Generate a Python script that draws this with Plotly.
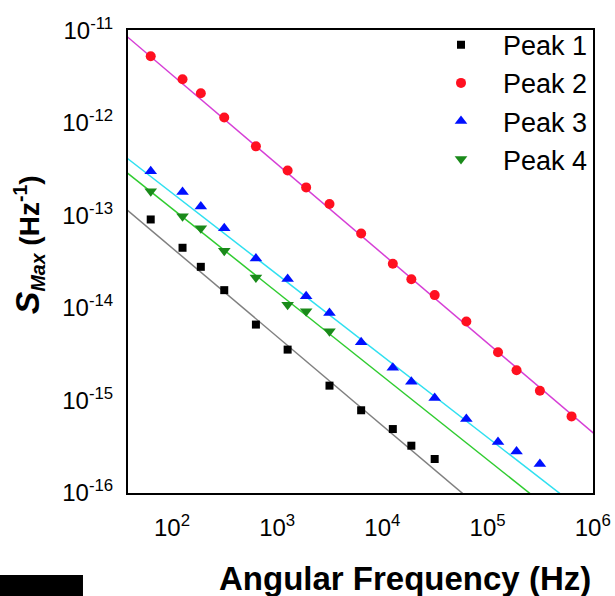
import numpy as np
import plotly.graph_objects as go

# ---- data ----
omega = [62.8, 126, 188, 314, 628, 1257, 1885, 3142, 6283, 12566, 18850,
         31416, 62832, 125664, 188496, 314159, 628318]

peak1_x = [62.8, 126, 188, 314, 628, 1257, 3142, 6283, 12566, 18850, 31416]
peak1_y = [9.0e-14, 4.45e-14, 2.77e-14, 1.55e-14, 6.58e-15, 3.53e-15,
           1.44e-15, 7.8e-16, 4.89e-16, 3.23e-16, 2.32e-16]

peak2_x = omega
peak2_y = [5.23e-12, 2.95e-12, 2.08e-12, 1.14e-12, 5.55e-13, 3.05e-13,
           2.0e-13, 1.32e-13, 6.35e-14, 2.99e-14, 2.03e-14, 1.37e-14,
           7.1e-15, 3.30e-15, 2.11e-15, 1.27e-15, 6.7e-16]

peak3_x = [62.8, 126, 188, 314, 628, 1257, 1885, 3142, 6283, 12566, 18850,
           31416, 62832, 125664, 188496, 314159]
peak3_y = [2.98e-13, 1.78e-13, 1.24e-13, 7.24e-14, 3.40e-14, 2.05e-14,
           1.33e-14, 8.8e-15, 4.23e-15, 2.25e-15, 1.59e-15, 1.06e-15,
           6.28e-16, 3.54e-16, 2.80e-16, 2.05e-16]

peak4_x = [62.8, 126, 188, 314, 628, 1257, 1885, 3142]
peak4_y = [1.82e-13, 9.78e-14, 7.24e-14, 4.13e-14, 2.12e-14, 1.08e-14,
           9.17e-15, 5.57e-15]

# power-law fits: log10(S) = intercept + slope*log10(omega)
fit_slope = [-0.961, -0.967, -0.881, -0.905]
fit_intercept = [-11.43, -9.548, -10.997, -11.118]

names = ["Peak 1", "Peak 2", "Peak 3", "Peak 4"]
marker_colors = ["#000000", "#ff1020", "#0010ff", "#1a8a1a"]
line_colors = ["#808080", "#d63fd6", "#30e0f0", "#30cc30"]
symbols = ["square", "circle", "triangle-up", "triangle-down"]
sizes = [8, 10, 11, 11]

# axis decades and their labels
x_exponents = [2, 3, 4, 5, 6]
y_exponents = [-16, -15, -14, -13, -12, -11]

xs = [peak1_x, peak2_x, peak3_x, peak4_x]
ys = [peak1_y, peak2_y, peak3_y, peak4_y]

x_range_log = [1.582, 6.002]
y_range_log = [-16.002, -10.998]

W, H = 615, 596
M = dict(l=128, r=22, t=30, b=103)
PLOT_W = W - M["l"] - M["r"]
PLOT_H = H - M["t"] - M["b"]
MAJOR_LEN, MINOR_LEN = 14, 7

FONT = "Arial, Liberation Sans, sans-serif"


def minor_exps(lo, hi):
    out = []
    for e in range(int(np.floor(lo)), int(np.ceil(hi)) + 1):
        for m in range(2, 10):
            v = np.log10(m) + e
            if lo < v < hi:
                out.append(v)
    return out


def decade_labels(exps):
    return [f"10<sup>{e}</sup>" for e in exps]


fig = go.Figure()
xfit = np.logspace(1.4, 6.2, 50)
for i in range(4):
    yfit = 10 ** (fit_intercept[i] + fit_slope[i] * np.log10(xfit))
    fig.add_trace(go.Scatter(x=xfit, y=yfit, mode="lines",
                             line=dict(color=line_colors[i], width=1.5),
                             showlegend=False, hoverinfo="skip"))
for i in range(4):
    fig.add_trace(go.Scatter(x=xs[i], y=ys[i], mode="markers", name=names[i],
                             marker=dict(symbol=symbols[i], size=sizes[i],
                                         color=marker_colors[i], line=dict(width=0)),
                             cliponaxis=False))

common = dict(
    type="log", showgrid=False, zeroline=False, showline=True,
    linecolor="black", linewidth=2, mirror=True, ticks="",
    tickmode="array", automargin=False,
    tickfont=dict(family=FONT, size=24, color="black"),
)

fig.update_layout(
    xaxis=dict(range=x_range_log, ticklabelstandoff=12,
               tickvals=[10.0 ** e for e in x_exponents],
               ticktext=decade_labels(x_exponents), **common),
    yaxis=dict(range=y_range_log, ticklabelstandoff=8,
               tickvals=[10.0 ** e for e in y_exponents],
               ticktext=decade_labels(y_exponents), **common),
)

# inward tick marks on the bottom and left axes (positions in log-axis units)
tick_shapes = []
for e, ln in [(e, MAJOR_LEN) for e in x_exponents] + [(e, MINOR_LEN) for e in minor_exps(*x_range_log)]:
    tick_shapes.append(dict(type="line", xref="x", yref="y domain", x0=e, x1=e,
                            y0=0, y1=ln / PLOT_H, line=dict(color="black", width=2)))
for e, ln in [(e, MAJOR_LEN) for e in y_exponents] + [(e, MINOR_LEN) for e in minor_exps(*y_range_log)]:
    tick_shapes.append(dict(type="line", xref="x domain", yref="y", x0=0, x1=ln / PLOT_W,
                            y0=e, y1=e, line=dict(color="black", width=2)))

fig.update_layout(
    width=W, height=H, margin=M,
    plot_bgcolor="white", paper_bgcolor="white",
    font=dict(family=FONT, color="black"),
    legend=dict(x=1, y=1.02, xanchor="right", yanchor="top",
                bgcolor="rgba(0,0,0,0)", borderwidth=0, itemwidth=74,
                font=dict(family=FONT, size=27, color="black"),
                tracegroupgap=0, itemsizing="trace"),
    annotations=[
        dict(text="<b>Angular Frequency (Hz)</b>", xref="paper", yref="paper",
             x=0.5957, y=-0.1857, xanchor="center", yanchor="middle",
             showarrow=False, font=dict(family=FONT, size=33, color="black")),
        dict(text="<b><i><span style='font-size:34px'>S</span><sub>Max</sub></i> (Hz<sup>-1</sup>)</b>",
             xref="paper", yref="paper", x=-0.2146, y=0.5356, textangle=-90,
             xanchor="center", yanchor="middle", showarrow=False,
             font=dict(family=FONT, size=28, color="black")),
    ],
    shapes=tick_shapes + [dict(type="rect", xref="paper", yref="paper",
                               x0=-0.2753, x1=-0.0968, y0=-0.2225, y1=-0.1771,
                               fillcolor="black", line=dict(width=0))],
)

fig.write_html("out.html")
